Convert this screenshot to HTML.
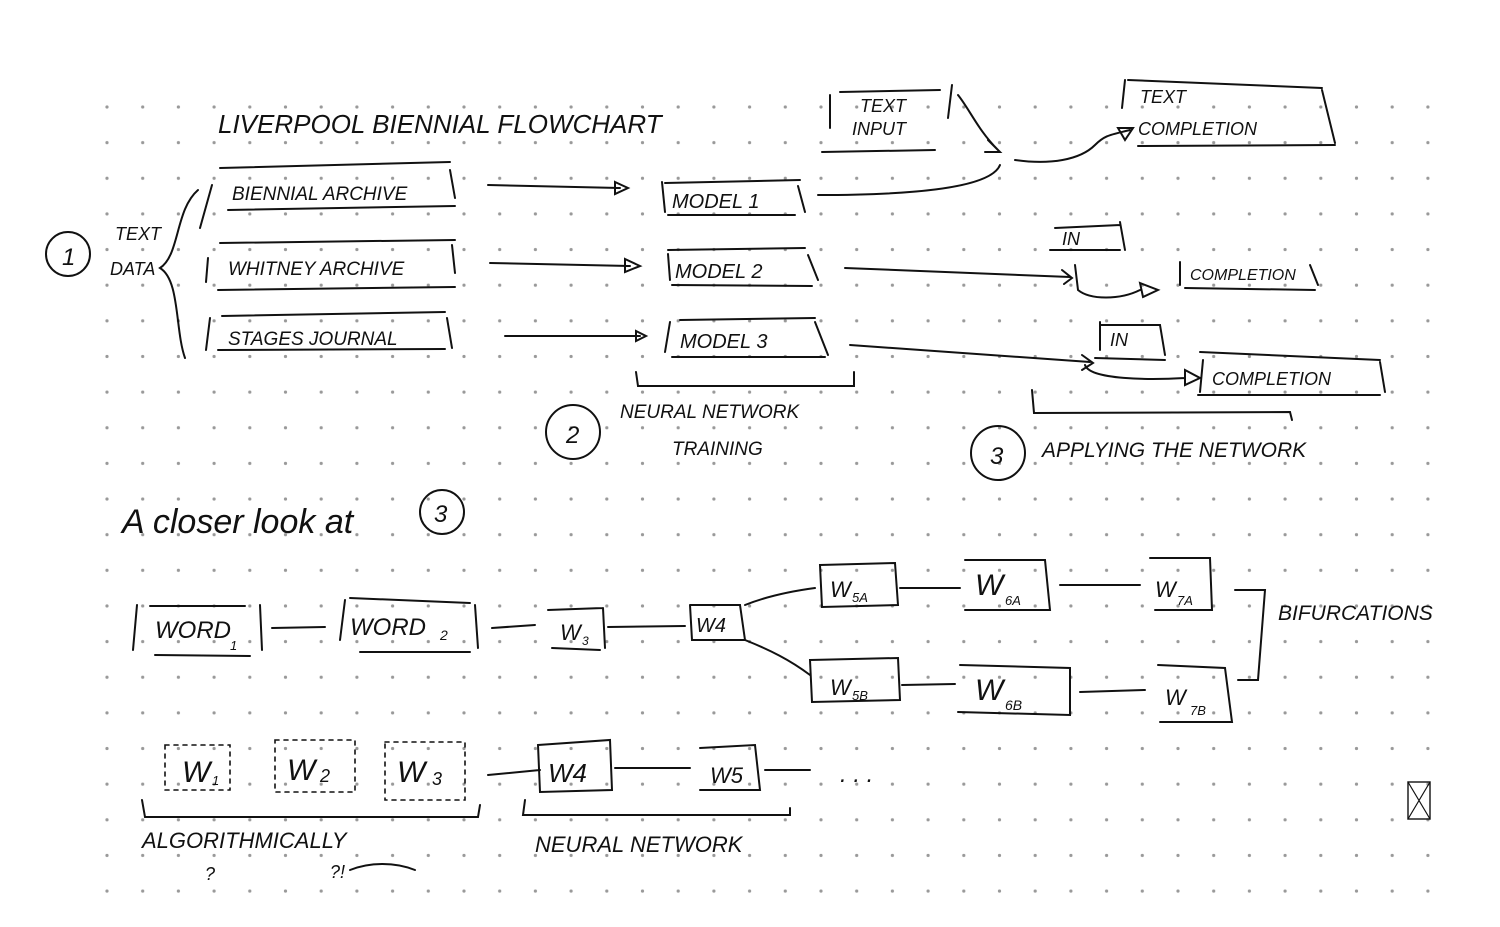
<!DOCTYPE html>
<html><head><meta charset="utf-8"><style>
html,body{margin:0;padding:0;background:#fff}
svg{display:block}
text{font-family:"Liberation Sans",sans-serif;fill:#111}
</style></head><body>
<svg width="1500" height="927" viewBox="0 0 1500 927" xmlns="http://www.w3.org/2000/svg">
<defs>
<pattern id="g" x="107" y="107" width="35.7" height="35.64" patternUnits="userSpaceOnUse">
<circle cx="0" cy="0" r="1.6" fill="#999"/><circle cx="35.7" cy="0" r="1.6" fill="#999"/><circle cx="0" cy="35.64" r="1.6" fill="#999"/><circle cx="35.7" cy="35.64" r="1.6" fill="#999"/>
</pattern>
</defs>
<rect x="105" y="105" width="1326" height="789" fill="url(#g)"/>
<g fill="none" stroke="#111" stroke-width="2" stroke-linecap="round">
<circle cx="68" cy="254" r="22"/>
<path d="M198 190 C175 210,180 255,160 268 C180 280,175 330,185 358"/>
<path d="M212 185 L200 228 M220 168 L450 162 M450 170 L455 198 M228 210 L455 206"/>
<path d="M208 258 L206 282 M220 243 L455 240 M452 245 L455 273 M218 290 L455 287"/>
<path d="M210 318 L206 350 M222 316 L445 312 M447 318 L452 348 M218 350 L445 349"/>
<path d="M488 185 L620 188 M615 182 L628 188 L615 194 Z"/>
<path d="M490 263 L630 266 M625 259 L640 266 L625 272 Z"/>
<path d="M505 336 L640 336 M636 331 L646 336 L636 341 Z"/>
<path d="M662 182 L665 212 M665 183 L800 180 M798 186 L805 212 M668 215 L795 215"/>
<path d="M668 250 L805 248 M808 255 L818 280 M672 285 L812 286 M668 254 L670 280"/>
<path d="M670 322 L665 352 M680 320 L815 318 M815 322 L828 355 M672 357 L825 357"/>
<path d="M636 372 L638 386 L854 386 L854 372"/>
<circle cx="573" cy="432" r="27"/>
<path d="M830 95 L830 128 M840 92 L940 90 M952 85 L948 118 M822 152 L935 150"/>
<path d="M958 95 C970 110,978 130,998 150 M988 140 L1000 152 L985 152"/>
<path d="M818 195 C900 195,990 190,1000 165"/>
<path d="M1015 160 C1050 165,1080 160,1095 145 C1105 135,1110 135,1130 130 M1118 128 L1133 128 L1125 140 Z"/>
<path d="M1125 80 L1122 108 M1128 80 L1322 88 M1322 90 L1335 143 M1138 146 L1335 145"/>
<path d="M1055 228 L1120 225 M1120 222 L1125 250 M1050 250 L1120 250"/>
<path d="M845 268 L1070 277 M1062 270 L1072 278 L1064 284 M1075 265 L1078 290 C1090 300,1120 300,1140 290 M1140 283 L1158 290 L1143 297 Z"/>
<path d="M1180 262 L1180 285 M1185 288 L1315 290 M1310 265 L1318 285"/>
<path d="M850 345 L1090 362 M1082 355 L1093 363 L1082 370 M1100 322 L1100 350 M1100 325 L1160 325 L1165 355 M1095 358 L1165 360"/>
<path d="M1085 365 C1090 380,1150 380,1185 378 M1185 370 L1200 378 L1185 385 Z"/>
<path d="M1200 352 L1380 360 M1380 362 L1385 392 M1198 395 L1380 395 M1203 360 L1200 392"/>
<path d="M1032 390 L1034 413 L1290 412 L1292 420"/>
<circle cx="998" cy="453" r="27"/>
<circle cx="442" cy="512" r="22"/>
<path d="M137 605 L133 650 M260 605 L262 650 M155 655 L250 656 M150 606 L245 606"/>
<path d="M272 628 L325 627 M345 600 L340 640 M350 598 L470 603 M475 605 L478 648 M360 652 L470 652"/>
<path d="M492 628 L535 625 M548 610 L603 608 M603 608 L605 648 M552 648 L600 650 M608 627 L685 626"/>
<path d="M690 605 L740 605 L745 640 L692 640 L690 605"/>
<path d="M745 605 C770 595,800 590,815 588 M745 640 C770 650,790 660,810 675"/>
<path d="M820 565 L895 563 L898 605 L822 607 Z M900 588 L960 588 M965 560 L1045 560 L1050 610 L965 610 M1060 585 L1140 585 M1150 558 L1210 558 L1212 610 L1155 610 M1235 590 L1265 590 L1258 680 L1238 680"/>
<path d="M810 660 L898 658 L900 700 L812 702 Z M902 685 L955 684 M960 665 L1070 668 L1070 715 L958 712 M1080 692 L1145 690 M1158 665 L1225 668 L1232 722 L1160 722"/>
<g stroke-dasharray="4 5" stroke-width="1.6">
<rect x="165" y="745" width="65" height="45"/><rect x="275" y="740" width="80" height="52"/><rect x="385" y="742" width="80" height="58"/>
</g>
<path d="M488 775 L540 770 M538 745 L610 740 L612 790 L540 792 Z M615 768 L690 768 M700 748 L755 745 L760 790 L700 790 M765 770 L810 770"/>
<path d="M142 800 L145 817 L478 817 L480 805 M525 800 L523 815 L790 815 L790 808"/>
<rect x="1408" y="782" width="22" height="37" stroke-width="1.4"/><path d="M1408 782 L1430 819 M1430 782 L1408 819" stroke-width="1.2"/>
<path d="M350 870 C370 862,395 862,415 870"/>
</g>
<g font-style="italic">
<text x="218" y="133" font-size="26">LIVERPOOL BIENNIAL  FLOWCHART</text>
<text x="62" y="265" font-size="24">1</text>
<text x="115" y="240" font-size="18">TEXT</text>
<text x="110" y="275" font-size="18">DATA</text>
<text x="232" y="200" font-size="19">BIENNIAL ARCHIVE</text>
<text x="228" y="275" font-size="19">WHITNEY ARCHIVE</text>
<text x="228" y="345" font-size="19">STAGES JOURNAL</text>
<text x="672" y="208" font-size="20">MODEL 1</text>
<text x="675" y="278" font-size="20">MODEL 2</text>
<text x="680" y="348" font-size="20">MODEL 3</text>
<text x="566" y="443" font-size="24">2</text>
<text x="620" y="418" font-size="19">NEURAL NETWORK</text>
<text x="672" y="455" font-size="19">TRAINING</text>
<text x="860" y="112" font-size="18">TEXT</text>
<text x="852" y="135" font-size="18">INPUT</text>
<text x="1140" y="103" font-size="18">TEXT</text>
<text x="1138" y="135" font-size="18">COMPLETION</text>
<text x="1062" y="245" font-size="18">IN</text>
<text x="1190" y="280" font-size="16">COMPLETION</text>
<text x="1110" y="346" font-size="18">IN</text>
<text x="1212" y="385" font-size="18">COMPLETION</text>
<text x="990" y="464" font-size="24">3</text>
<text x="1042" y="457" font-size="21">APPLYING THE NETWORK</text>
<text x="122" y="533" font-size="34">A closer look at</text>
<text x="434" y="522" font-size="24">3</text>
<text x="155" y="638" font-size="24">WORD</text><text x="230" y="650" font-size="13">1</text>
<text x="350" y="635" font-size="24">WORD</text><text x="440" y="640" font-size="14">2</text>
<text x="560" y="640" font-size="22">W</text><text x="582" y="645" font-size="12">3</text>
<text x="696" y="632" font-size="20">W4</text>
<text x="830" y="597" font-size="22">W</text><text x="852" y="602" font-size="13">5A</text>
<text x="975" y="595" font-size="30">W</text><text x="1005" y="605" font-size="13">6A</text>
<text x="1155" y="597" font-size="22">W</text><text x="1177" y="605" font-size="13">7A</text>
<text x="1278" y="620" font-size="21">BIFURCATIONS</text>
<text x="830" y="695" font-size="22">W</text><text x="852" y="700" font-size="13">5B</text>
<text x="975" y="700" font-size="30">W</text><text x="1005" y="710" font-size="14">6B</text>
<text x="1165" y="705" font-size="22">W</text><text x="1190" y="715" font-size="13">7B</text>
<text x="182" y="782" font-size="30">W</text><text x="212" y="785" font-size="13">1</text>
<text x="287" y="780" font-size="30">W</text><text x="320" y="782" font-size="18">2</text>
<text x="397" y="782" font-size="30">W</text><text x="432" y="785" font-size="18">3</text>
<text x="548" y="782" font-size="26">W4</text>
<text x="710" y="783" font-size="22">W5</text>
<text x="840" y="782" font-size="24">. . .</text>
<text x="142" y="848" font-size="22">ALGORITHMICALLY</text>
<text x="205" y="880" font-size="18">?</text>
<text x="330" y="878" font-size="18">?!</text>
<text x="535" y="852" font-size="22">NEURAL  NETWORK</text>
</g>
</svg>
</body></html>
